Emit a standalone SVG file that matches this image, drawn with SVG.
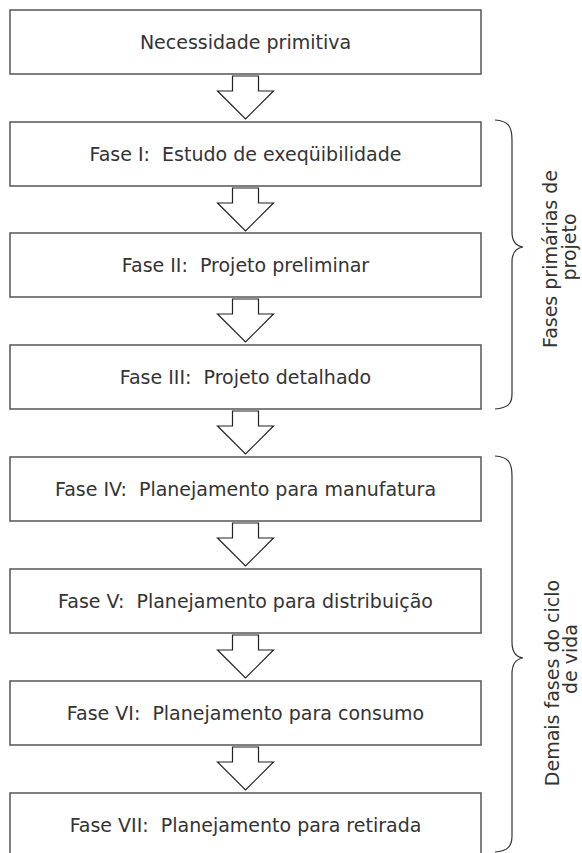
<svg xmlns="http://www.w3.org/2000/svg" width="582" height="853" viewBox="0 0 582 853">
  <style>
    .box { fill: #ffffff; stroke: #555555; stroke-width: 1.5; }
    .lbl { font-family: "DejaVu Sans", "Liberation Sans", sans-serif; font-size: 19px; fill: #333333; text-anchor: middle; white-space: pre; }
    .arrow { fill: #ffffff; stroke: #222222; stroke-width: 1.2; stroke-linejoin: miter; }
    .brace { fill: none; stroke: #333333; stroke-width: 1.2; }
  </style>
  <defs>
    <!-- hollow block arrow, 43 tall, origin at top of stem -->
    <polygon id="down" class="arrow" points="-13,0 13,0 13,15 28,15 0,43 -28,15 -13,15"/>
  </defs>
  <rect width="582" height="853" fill="#ffffff"/>

  <g id="connectors">
    <use href="#down" x="245.5" y="76"/>
    <use href="#down" x="245.5" y="188"/>
    <use href="#down" x="245.5" y="299"/>
    <use href="#down" x="245.5" y="411"/>
    <use href="#down" x="245.5" y="523"/>
    <use href="#down" x="245.5" y="635"/>
    <use href="#down" x="245.5" y="747"/>
  </g>

  <g id="need">
    <rect class="box" x="10" y="10" width="471" height="64"/>
    <text class="lbl" x="245.5" y="49">Necessidade primitiva</text>
  </g>
  <g id="fase1">
    <rect class="box" x="10" y="122" width="471" height="64"/>
    <text class="lbl" x="245.5" y="161" xml:space="preserve">Fase I:  Estudo de exeqüibilidade</text>
  </g>
  <g id="fase2">
    <rect class="box" x="10" y="233" width="471" height="64"/>
    <text class="lbl" x="245.5" y="272" xml:space="preserve">Fase II:  Projeto preliminar</text>
  </g>
  <g id="fase3">
    <rect class="box" x="10" y="345" width="471" height="64"/>
    <text class="lbl" x="245.5" y="384" xml:space="preserve">Fase III:  Projeto detalhado</text>
  </g>
  <g id="fase4">
    <rect class="box" x="10" y="457" width="471" height="64"/>
    <text class="lbl" x="245.5" y="496" xml:space="preserve">Fase IV:  Planejamento para manufatura</text>
  </g>
  <g id="fase5">
    <rect class="box" x="10" y="569" width="471" height="64"/>
    <text class="lbl" x="245.5" y="608" xml:space="preserve">Fase V:  Planejamento para distribuição</text>
  </g>
  <g id="fase6">
    <rect class="box" x="10" y="681" width="471" height="64"/>
    <text class="lbl" x="245.5" y="720" xml:space="preserve">Fase VI:  Planejamento para consumo</text>
  </g>
  <g id="fase7">
    <rect class="box" x="10" y="793" width="471" height="80"/>
    <text class="lbl" x="245.5" y="832" xml:space="preserve">Fase VII:  Planejamento para retirada</text>
  </g>

  <g id="group-primary">
    <path class="brace" d="M495,120 C508,121 512,126 512,140 L512,232 C512,242 516,246 523,247 C516,248 512,252 512,262 L512,394 C512,404 508,408 495,409"/>
    <text class="lbl" transform="translate(557,259) rotate(-90)">Fases primárias de</text>
    <text class="lbl" transform="translate(576,247) rotate(-90)">projeto</text>
  </g>

  <g id="group-lifecycle">
    <path class="brace" d="M495,456 C508,457 512,462 512,476 L512,642 C512,652 516,657 523,658 C516,659 512,664 512,674 L512,836 C512,846 508,851 495,852"/>
    <text class="lbl" transform="translate(559,683) rotate(-90)">Demais fases do ciclo</text>
    <text class="lbl" transform="translate(577,659) rotate(-90)">de vida</text>
  </g>
</svg>
